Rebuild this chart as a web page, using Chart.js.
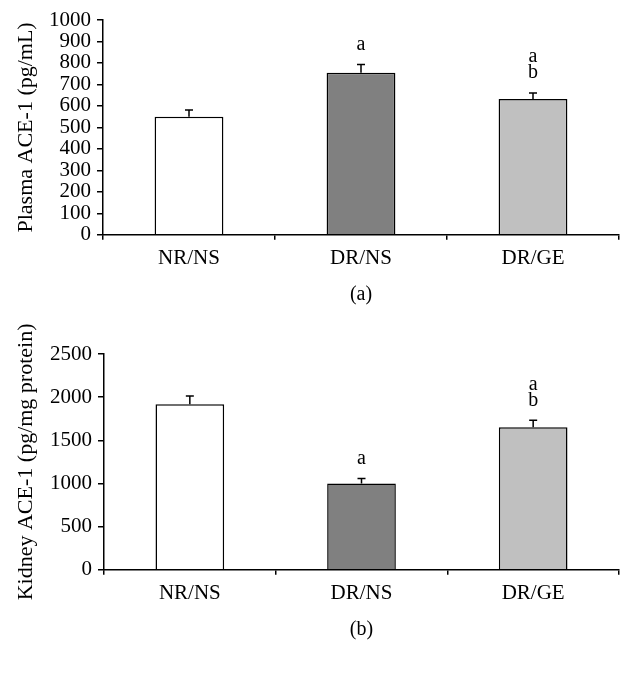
<!DOCTYPE html>
<html>
<head>
<meta charset="utf-8">
<script src="https://cdn.jsdelivr.net/npm/chart.js@4/dist/chart.umd.min.js"></script>
<style>
  html, body { margin: 0; padding: 0; background: #fff; }
  .box { position: absolute; left: 0; width: 632px; }
</style>
</head>
<body>
<div class="box" style="top:0;height:320px"><canvas id="chartA"></canvas></div>
<div class="box" style="top:320px;height:353px"><canvas id="chartB"></canvas></div>
<script>
const groups = ["NR/NS", "DR/NS", "DR/GE"];
const barColors = ["#ffffff", "#808080", "#c0c0c0"];

const plasmaValues = [549, 755, 632];
const plasmaErrors = [32, 38, 28];
const plasmaLetters = [[], ["a"], ["a", "b"]];

const kidneyValues = [1919, 1000, 1651];
const kidneyErrors = [93, 58, 81];
const kidneyLetters = [[], ["a"], ["a", "b"]];

const serif = "'Liberation Serif', 'Times New Roman', serif";

// error bars (upper only) + significance letters
const errorBarPlugin = {
  id: "errorBars",
  afterDatasetsDraw(chart, args, opts) {
    const ctx = chart.ctx;
    const y = chart.scales.y;
    const meta = chart.getDatasetMeta(0);
    ctx.save();
    meta.data.forEach((bar, i) => {
      const top = y.getPixelForValue(opts.values[i] + opts.errors[i]);
      ctx.strokeStyle = "#000";
      ctx.lineWidth = 1.5;
      ctx.beginPath();
      ctx.moveTo(bar.x, bar.y);
      ctx.lineTo(bar.x, top);
      ctx.moveTo(bar.x - 4, top);
      ctx.lineTo(bar.x + 4, top);
      ctx.stroke();

      const letters = opts.letters[i];
      ctx.fillStyle = "#000";
      ctx.font = "20px " + serif;
      ctx.textAlign = "center";
      ctx.textBaseline = "middle";
      for (let k = 0; k < letters.length; k++) {
        const fromBottom = letters.length - 1 - k;
        ctx.fillText(letters[k], bar.x, top - 20 - fromBottom * 16);
      }
    });
    ctx.restore();
  }
};

function makeChart(id, values, errors, letters, yMax, yStep, yTitle, xTitle, yWidth, titlePad, pad) {
  return new Chart(document.getElementById(id), {
    type: "bar",
    data: {
      labels: groups,
      datasets: [{
        data: values,
        backgroundColor: barColors,
        borderColor: "#000",
        borderWidth: 1.5,
        barPercentage: 0.4,
        categoryPercentage: 1.0
      }]
    },
    options: {
      responsive: true,
      maintainAspectRatio: false,
      animation: false,
      layout: { padding: pad },
      plugins: {
        legend: { display: false },
        tooltip: { enabled: false },
        errorBars: { values: values, errors: errors, letters: letters }
      },
      scales: {
        x: {
          offset: true,
          grid: { offset: true, drawOnChartArea: false, drawTicks: true, tickLength: 5, color: "#000", lineWidth: 1.5 },
          border: { display: true, color: "#000", width: 1.5 },
          ticks: { color: "#000", font: { family: serif, size: 21 }, padding: 6 },
          title: { display: true, text: xTitle, color: "#000", font: { family: serif, size: 20 }, padding: titlePad }
        },
        y: {
          min: 0,
          max: yMax,
          afterFit(scale) { scale.width = yWidth; },
          grid: { drawOnChartArea: false, drawTicks: true, tickLength: 6, color: "#000", lineWidth: 1.5 },
          border: { display: true, color: "#000", width: 1.5 },
          ticks: {
            stepSize: yStep, autoSkip: false, color: "#000",
            font: { family: serif, size: 21, lineHeight: 1 }, padding: 6,
            callback: (v) => String(v)
          },
          title: { display: true, text: yTitle, color: "#000", font: { family: serif, size: 22 }, padding: { top: 13, bottom: 0 } }
        }
      }
    },
    plugins: [errorBarPlugin]
  });
}

makeChart("chartA", plasmaValues, plasmaErrors, plasmaLetters, 1000, 100,
  "Plasma ACE-1 (pg/mL)", "(a)", 103, { top: 6, bottom: 13 }, { top: 20, right: 13, bottom: 0, left: 0 });
makeChart("chartB", kidneyValues, kidneyErrors, kidneyLetters, 2500, 500,
  "Kidney ACE-1 (pg/mg protein)", "(b)", 104, { top: 6, bottom: 14 }, { top: 34, right: 13, bottom: 17, left: 0 });
</script>
</body>
</html>
